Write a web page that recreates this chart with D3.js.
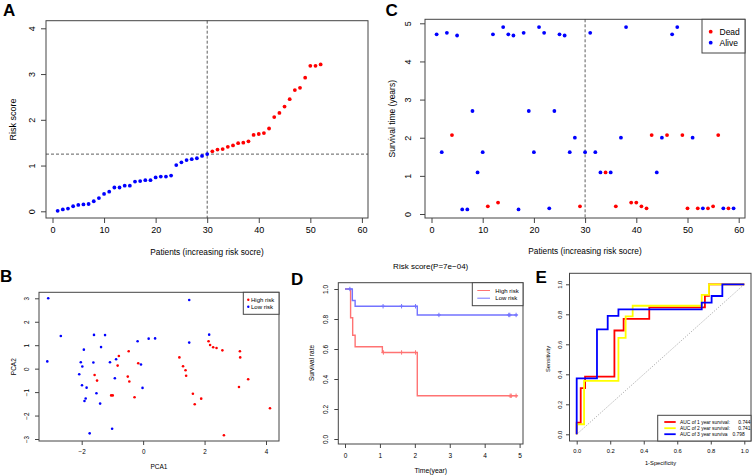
<!DOCTYPE html>
<html><head><meta charset="utf-8">
<script src="https://cdn.jsdelivr.net/npm/d3@7"></script>
<style>html,body{margin:0;padding:0;background:#fff;}svg{display:block;}</style>
</head><body>
<script>
// ---------------- DATA ----------------
// Panel A: risk scores (sorted), patients 1..52
const riskScore = [0.01,0.04,0.06,0.11,0.14,0.15,0.16,0.22,0.29,0.38,0.43,0.52,0.52,0.56,0.56,0.65,0.66,0.68,0.68,0.74,0.76,0.76,0.78,1.01,1.07,1.12,1.14,1.16,1.21,1.25,
  1.31,1.35,1.36,1.41,1.44,1.49,1.50,1.53,1.67,1.69,1.71,1.81,2.06,2.15,2.29,2.45,2.65,2.70,2.92,3.18,3.18,3.21];
const riskCutoff = 1.25;
const cutPatient = 30;
const patientTicks = [0,10,20,30,40,50,60];
const riskTicks = [0,1,2,3,4];

// Panel C: survival time (years) and status (1 = dead, 0 = alive), patients 1..59
const survTime = [4.71,1.62,4.75,2.07,4.68,0.12,0.12,2.70,1.09,1.62,0.20,4.71,0.30,4.90,4.71,4.68,0.12,4.75,2.70,1.62,
  4.90,4.75,0.15,2.70,4.71,4.68,1.62,2.00,0.20,1.62,4.75,1.62,1.09,1.09,1.09,0.20,2.00,4.90,0.30,0.30,
  0.20,0.15,2.07,1.09,2.00,2.07,4.71,4.90,2.07,0.15,2.00,0.15,0.15,0.15,0.20,2.07,0.15,0.15,0.15];
const survStatus = [0,0,0,1,0,0,0,0,0,0,1,0,1,0,0,0,0,0,0,0,
  0,0,0,0,0,0,0,0,1,0,0,0,0,1,0,1,0,0,1,1,
  1,1,1,0,0,1,0,0,1,1,0,1,0,1,1,1,0,1,0];
const timeTicks = [0,1,2,3,4,5];
const statusLabels = ["Dead","Alive"];

// Panel B: PCA
const pcaHighX = [-0.79,-0.83,-0.47,-0.16,-1.58,-1.50,-0.50,-0.45,-0.28,-1.04,-0.99,1.18,1.30,1.38,1.40,1.62,1.68,1.89,2.13,2.18,2.28,2.39,2.58,2.63,3.15,3.16,3.12,3.42,4.13];
const pcaHighY = [0.54,0.13,0.74,0.23,-0.27,-0.51,-0.34,-0.55,-1.22,-1.14,-1.14,0.48,0.10,-0.07,-0.30,-1.07,-1.52,-1.28,1.17,1.01,0.91,0.88,0.78,-2.84,0.74,0.48,-0.78,-0.45,-1.69];
const pcaLowX = [-3.09,-2.68,-3.12,-1.60,-1.24,-1.93,-1.37,-2.03,-1.98,-1.62,-1.08,-0.88,-2.08,-1.99,-1.84,-1.52,-1.87,-1.91,-1.40,-0.92,-1.74,-1.01,-0.18,0.18,0.39,-0.07,-0.02,1.50,1.50,2.15];
const pcaLowY = [3.00,1.39,0.31,1.44,1.43,0.81,0.92,0.27,0.09,0.26,0.27,0.40,-0.24,-0.71,-0.81,-1.05,-1.27,-1.38,-1.49,-0.41,-2.76,-2.56,1.17,1.28,1.29,0.18,-0.82,2.93,1.11,1.45];
const pcaXTicks = [-2,0,2,4];
const pcaYTicks = [-3,-2,-1,0,1,2,3];
const groupLabels = ["High risk","Low risk"];

// Panel D: Kaplan-Meier
const kmHighTime = [0,0.16,0.22,0.29,1.07,2.07,4.94];
const kmHighSurv = [1,0.808,0.692,0.615,0.577,0.288,0.288];
const kmHighCensor = [1.10,1.62,2.02,4.73,4.76,4.90];
const kmLowTime = [0,0.21,0.29,2.07,4.94];
const kmLowSurv = [1,0.923,0.885,0.827,0.827];
const kmLowCensor = [0.14,1.09,1.62,2.02,2.69,4.69,4.72,4.90];
const kmTitle = "Risk score(P=7e\u221204)";
const kmXTicks = [0,1,2,3,4,5];
const kmYTicks = [0,0.2,0.4,0.6,0.8,1.0];

// Panel E: ROC curves
const roc1Fpr = [0,0,0.024,0.024,0.05,0.05,0.225,0.225,0.28,0.28,0.433,0.433,0.765,0.765,0.789,0.789,1];
const roc1Tpr = [0,0.077,0.077,0.308,0.308,0.385,0.385,0.692,0.692,0.769,0.769,0.846,0.846,0.923,0.923,1,1];
const roc2Fpr = [0,0,0.044,0.044,0.249,0.249,0.292,0.292,0.334,0.334,0.746,0.746,0.789,0.789,1];
const roc2Tpr = [0,0.067,0.067,0.356,0.356,0.643,0.643,0.786,0.786,0.857,0.857,0.929,0.929,1,1];
const roc3Fpr = [0,0,0.121,0.121,0.185,0.185,0.249,0.249,0.746,0.746,0.805,0.805,0.869,0.869,1];
const roc3Tpr = [0,0.373,0.373,0.70,0.70,0.789,0.789,0.833,0.833,0.878,0.878,0.922,0.922,1,1];
const rocLabels = ["AUC of 1 year survival:","AUC of 2 year survival:","AUC of 3 year surviva"];
const rocAUC = ["0.744","0.741","0.798"];
const rocTicks = [0,0.2,0.4,0.6,0.8,1.0];

// ---------------- DRAWING ----------------
const F = "'Liberation Sans', Arial, Helvetica, sans-serif";
const W = 752, H = 476;
const svg = d3.select("body").append("svg").attr("width", W).attr("height", H);
svg.append("rect").attr("width", W).attr("height", H).attr("fill", "#fff");
const AX = "#444";

function frame(c) {
  const g = svg.append("g");
  g.append("rect").attr("x", c.box[0]).attr("y", c.box[1])
    .attr("width", c.box[2] - c.box[0]).attr("height", c.box[3] - c.box[1])
    .attr("fill", "none").attr("stroke", AX).attr("stroke-width", 1);
  const xa = g.append("g").attr("transform", `translate(0,${c.box[3]})`)
    .call(d3.axisBottom(c.x).tickValues(c.xticks).tickSize(c.tl).tickFormat(c.xfmt || d3.format("")));
  xa.select(".domain").remove();
  xa.selectAll("line").attr("stroke", AX);
  xa.selectAll("text").attr("y", c.xly - c.box[3]).attr("dy", "0.35em")
    .attr("font-size", c.fs).attr("font-family", F).attr("fill", "#000");
  const ya = g.append("g").attr("transform", `translate(${c.box[0]},0)`)
    .call(d3.axisLeft(c.y).tickValues(c.yticks).tickSize(c.tl).tickFormat(c.yfmt || d3.format("")));
  ya.select(".domain").remove();
  ya.selectAll("line").attr("stroke", AX);
  ya.selectAll("text").attr("x", 0).attr("dy", "0.35em").attr("text-anchor", "middle")
    .attr("transform", `translate(${c.ylx - c.box[0]},0) rotate(-90)`)
    .attr("font-size", c.fs).attr("font-family", F).attr("fill", "#000");
  return g;
}
function text(x, y, s, fs, opts = {}) {
  const t = svg.append("text").attr("x", x).attr("y", y).text(s)
    .attr("font-size", fs).attr("font-family", F).attr("fill", opts.fill || "#000")
    .attr("text-anchor", opts.anchor || "middle");
  if (opts.weight) t.attr("font-weight", opts.weight);
  if (opts.rot) t.attr("transform", `rotate(-90,${x},${y})`);
  if (opts.dy) t.attr("dy", opts.dy);
  return t;
}
function letter(x, y, s) { text(x, y, s, 17, {anchor: "start", weight: "bold"}); }

// ---- Panel A ----
{
  const x = d3.scaleLinear().domain([0, 60]).range([52.5, 361.9]);
  const y = d3.scaleLinear().domain([0, 4]).range([211.3, 28.3]);
  const box = [46, 20.7, 368, 218];
  frame({box, x, y, xticks: patientTicks, yticks: riskTicks, tl: 5, fs: 9, xly: 230, ylx: 32});
  svg.append("line").attr("x1", x(cutPatient)).attr("x2", x(cutPatient)).attr("y1", box[1]).attr("y2", box[3])
    .attr("stroke", "#333").attr("stroke-dasharray", "3,2").attr("stroke-width", 0.8);
  svg.append("line").attr("x1", box[0]).attr("x2", box[2]).attr("y1", y(riskCutoff)).attr("y2", y(riskCutoff))
    .attr("stroke", "#333").attr("stroke-dasharray", "3,2").attr("stroke-width", 0.8);
  svg.append("g").selectAll("circle").data(riskScore).join("circle")
    .attr("cx", (d, i) => x(i + 1)).attr("cy", d => y(d)).attr("r", 1.9)
    .attr("fill", (d, i) => (i + 1) > cutPatient ? "#ff0000" : "#0000ff");
  text(13, 119.4, "Risk score", 9, {rot: true, dy: "0.35em"});
  text(207, 252.5, "Patients (increasing risk socre)", 8.3, {dy: "0.35em"});
  letter(3, 15.5, "A");
}

// ---- Panel C ----
{
  const x = d3.scaleLinear().domain([0, 60]).range([431.5, 738.7]);
  const y = d3.scaleLinear().domain([0, 5]).range([214, 23.3]);
  const box = [425, 19.3, 745, 218];
  frame({box, x, y, xticks: patientTicks, yticks: timeTicks, tl: 5, fs: 9, xly: 230, ylx: 408});
  svg.append("line").attr("x1", x(cutPatient)).attr("x2", x(cutPatient)).attr("y1", box[1]).attr("y2", box[3])
    .attr("stroke", "#333").attr("stroke-dasharray", "3,2").attr("stroke-width", 0.8);
  svg.append("g").selectAll("circle").data(survTime).join("circle")
    .attr("cx", (d, i) => x(i + 1)).attr("cy", d => y(d)).attr("r", 1.9)
    .attr("fill", (d, i) => survStatus[i] === 1 ? "#ff0000" : "#0000ff");
  // legend
  svg.append("rect").attr("x", 702).attr("y", box[1]).attr("width", box[2] - 702).attr("height", 53 - box[1])
    .attr("fill", "#fff").attr("stroke", AX);
  const lc = ["#ff0000", "#0000ff"];
  statusLabels.forEach((s, i) => {
    const yy = 31.7 + i * 11;
    svg.append("circle").attr("cx", 710.7).attr("cy", yy).attr("r", 1.9).attr("fill", lc[i]);
    text(719.5, yy, s, 8.5, {anchor: "start", dy: "0.35em"});
  });
  text(391.7, 118.7, "Survival time (years)", 8.5, {rot: true, dy: "0.35em"});
  text(585, 251, "Patients (increasing risk socre)", 8.3, {dy: "0.35em"});
  letter(385.5, 15.5, "C");
}

// ---- Panel B ----
{
  const x = d3.scaleLinear().domain([-2, 4]).range([81.7, 266]);
  const y = d3.scaleLinear().domain([-3, 3]).range([439, 298.3]);
  const box = [39, 292.3, 279, 441];
  frame({box, x, y, xticks: pcaXTicks, yticks: pcaYTicks, tl: 4, fs: 6.3, xly: 452, ylx: 26.7});
  svg.append("g").selectAll("circle").data(pcaLowX).join("circle")
    .attr("cx", d => x(d)).attr("cy", (d, i) => y(pcaLowY[i])).attr("r", 1.3).attr("fill", "#0000ff");
  svg.append("g").selectAll("circle").data(pcaHighX).join("circle")
    .attr("cx", d => x(d)).attr("cy", (d, i) => y(pcaHighY[i])).attr("r", 1.3).attr("fill", "#ff0000");
  svg.append("rect").attr("x", 243.3).attr("y", box[1]).attr("width", box[2] - 243.3).attr("height", 314.3 - box[1])
    .attr("fill", "#fff").attr("stroke", AX);
  const lc = ["#ff0000", "#0000ff"];
  groupLabels.forEach((s, i) => {
    const yy = 299.7 + i * 7;
    svg.append("circle").attr("cx", 248.3).attr("cy", yy).attr("r", 1.2).attr("fill", lc[i]);
    text(251, yy, s, 6, {anchor: "start", dy: "0.35em"});
  });
  text(159, 466.7, "PCA1", 6.5, {dy: "0.35em"});
  text(13.3, 366.7, "PCA2", 6.5, {rot: true, dy: "0.35em"});
  letter(0, 282, "B");
}

// ---- Panel D ----
{
  const x = d3.scaleLinear().domain([0, 5]).range([345, 519.6]);
  const y = d3.scaleLinear().domain([0, 1]).range([439, 289]);
  const box = [338.3, 282.7, 523, 444];
  frame({box, x, y, xticks: kmXTicks, yticks: kmYTicks, tl: 4, fs: 6.5, xly: 456, ylx: 325.7, yfmt: d3.format(".1f")});
  const colH = "#ff7373", colL = "#7373ff";
  const line = d3.line().x(d => x(d[0])).y(d => y(d[1])).curve(d3.curveStepAfter);
  const hi = kmHighTime.map((t, i) => [t, kmHighSurv[i]]);
  const lo = kmLowTime.map((t, i) => [t, kmLowSurv[i]]);
  svg.append("path").attr("d", line(hi)).attr("fill", "none").attr("stroke", colH).attr("stroke-width", 1.4);
  svg.append("path").attr("d", line(lo)).attr("fill", "none").attr("stroke", colL).attr("stroke-width", 1.4);
  const stepAt = (times, surv, t) => { let s = surv[0]; times.forEach((tt, i) => { if (tt <= t) s = surv[i]; }); return s; };
  function censor(ts, times, surv, col) {
    const g = svg.append("g").attr("stroke", col).attr("stroke-width", 1);
    ts.forEach(t => {
      const cx = x(t), cy = y(stepAt(times, surv, t));
      g.append("line").attr("x1", cx).attr("x2", cx).attr("y1", cy - 2.2).attr("y2", cy + 2.2);
      g.append("line").attr("x1", cx - 2).attr("x2", cx + 2).attr("y1", cy).attr("y2", cy);
    });
  }
  censor(kmHighCensor, kmHighTime, kmHighSurv, colH);
  censor(kmLowCensor, kmLowTime, kmLowSurv, colL);
  svg.append("rect").attr("x", 472.3).attr("y", box[1]).attr("width", box[2] - 472.3).attr("height", 305.7 - box[1])
    .attr("fill", "#fff").attr("stroke", AX);
  [colH, colL].forEach((c, i) => {
    const yy = 290.5 + i * 7.7;
    svg.append("line").attr("x1", 477.3).attr("x2", 490).attr("y1", yy).attr("y2", yy).attr("stroke", c).attr("stroke-width", 1);
    text(495.3, yy, groupLabels[i], 6, {anchor: "start", dy: "0.35em"});
  });
  text(430.7, 266.5, kmTitle, 8, {dy: "0.35em"});
  text(430.7, 470.7, "Time(year)", 6.8, {dy: "0.35em"});
  text(311.7, 363, "Survival rate", 6.5, {rot: true, dy: "0.35em"});
  letter(291, 285, "D");
}

// ---- Panel E ----
{
  const x = d3.scaleLinear().domain([0, 1]).range([576.7, 744.3]);
  const y = d3.scaleLinear().domain([0, 1]).range([434.3, 284.3]);
  const box = [569.5, 273.3, 751, 441];
  frame({box, x, y, xticks: rocTicks, yticks: rocTicks, tl: 3.5, fs: 5.8, xly: 450.7, ylx: 560,
    xfmt: d3.format(".1f"), yfmt: d3.format(".1f")});
  svg.append("line").attr("x1", x(0)).attr("y1", y(0)).attr("x2", x(1)).attr("y2", y(1))
    .attr("stroke", "#888").attr("stroke-dasharray", "1,1.6").attr("stroke-width", 0.8);
  const line = d3.line().x(d => x(d[0])).y(d => y(d[1]));
  const cols = ["#ff0000", "#ffff00", "#0000ff"];
  [[roc1Fpr, roc1Tpr], [roc2Fpr, roc2Tpr], [roc3Fpr, roc3Tpr]].forEach((r, k) => {
    const pts = r[0].map((f, i) => [f, r[1][i]]);
    svg.append("path").attr("d", line(pts)).attr("fill", "none").attr("stroke", cols[k]).attr("stroke-width", 1.8);
  });
  svg.append("rect").attr("x", 657.7).attr("y", 415.3).attr("width", box[2] - 657.7).attr("height", box[3] - 415.3)
    .attr("fill", "#fff").attr("stroke", AX);
  const ly = [422, 428.2, 434.2];
  const vx = [738.3, 738.3, 732.5];
  rocLabels.forEach((s, i) => {
    svg.append("line").attr("x1", 664.3).attr("x2", 675.7).attr("y1", ly[i]).attr("y2", ly[i]).attr("stroke", cols[i]).attr("stroke-width", 1.8);
    text(680, ly[i], s, 4.9, {anchor: "start", dy: "0.35em"});
    text(vx[i], ly[i], rocAUC[i], 4.9, {anchor: "start", dy: "0.35em"});
  });
  text(660.5, 463.3, "1-Specificity", 5.8, {dy: "0.35em"});
  text(547.7, 359, "Sensitivity", 5.8, {rot: true, dy: "0.35em"});
  letter(535.5, 282.5, "E");
}
</script>
</body></html>
